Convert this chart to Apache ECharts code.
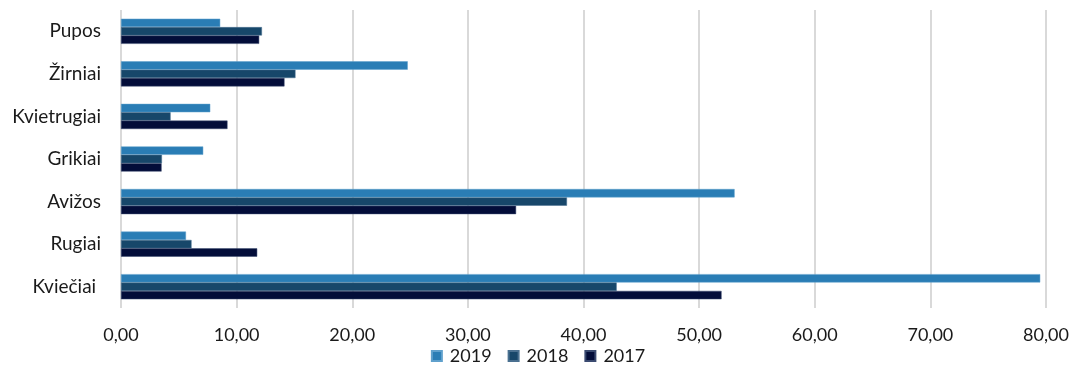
<!DOCTYPE html>
<html><head><meta charset="utf-8">
<script src="https://cdn.jsdelivr.net/npm/echarts@6/dist/echarts.min.js"></script>
<style>html,body{margin:0;padding:0;background:#fff}#c{width:1076px;height:367px}</style>
</head><body><div id="c"></div>
<script>
const categories = ['Kviečiai ','Rugiai','Avižos','Grikiai','Kvietrugiai','Žirniai','Pupos'];
const v2017 = [51.94, 11.78, 34.17, 3.51, 9.21, 14.14, 11.95];
const v2018 = [42.87, 6.10, 38.57, 3.54, 4.29, 15.09, 12.19];
const v2019 = [79.5, 5.62, 53.07, 7.11, 7.72, 24.8, 8.58];
const years = ['2019','2018','2017'];
const ticks = [0,10,20,30,40,50,60,70,80];

const font = 'Lato, "Open Sans", sans-serif';
const chart = echarts.init(document.getElementById('c'));
chart.setOption({
  animation:false,
  textStyle:{fontFamily:font},
  grid:{left:121,right:30,top:10,bottom:59,containLabel:false},
  legend:{data:years,bottom:-3,left:'center',icon:'rect',itemWidth:10,itemHeight:10,itemGap:16,
    textStyle:{fontSize:18,color:'#1a1a1a',fontFamily:font,padding:[0,0,0,3]}},
  xAxis:{type:'value',min:ticks[0],max:ticks[ticks.length-1],interval:10,
    axisLine:{show:false},axisTick:{show:false},
    splitLine:{lineStyle:{color:'#d9d9d9',width:2}},
    axisLabel:{fontSize:18,color:'#1a1a1a',margin:18,formatter:v=>v.toFixed(2).replace('.',','),fontFamily:font}},
  yAxis:{type:'category',data:categories,
    axisLine:{show:false},axisTick:{show:false},
    axisLabel:{fontSize:19,color:'#1a1a1a',margin:20,fontFamily:font}},
  series:[
    {name:'2019',type:'bar',data:v2019,barGap:'0%',barCategoryGap:'41%',itemStyle:{color:'#2a7db5',borderColor:'#5fa0cc',borderWidth:0.5}},
    {name:'2018',type:'bar',data:v2018,barGap:'0%',barCategoryGap:'41%',itemStyle:{color:'#17476a',borderColor:'#4a7090',borderWidth:0.5}},
    {name:'2017',type:'bar',data:v2017,barGap:'0%',barCategoryGap:'41%',itemStyle:{color:'#030d39',borderColor:'#3a4a70',borderWidth:0.5}}
  ]
});
</script></body></html>
